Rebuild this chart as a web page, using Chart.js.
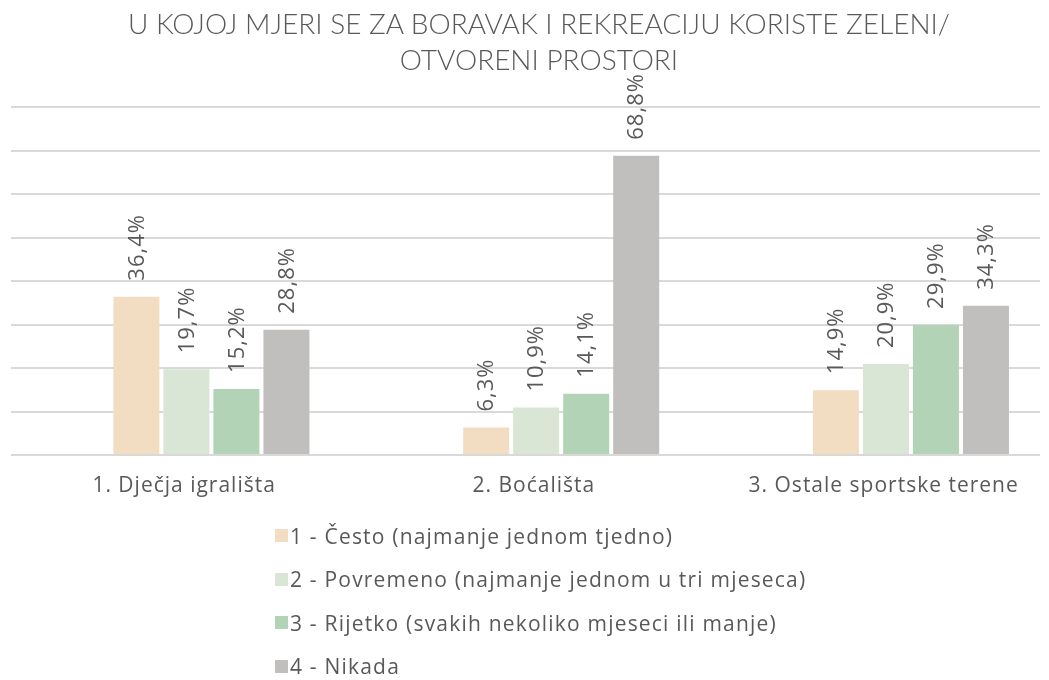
<!DOCTYPE html>
<html>
<head>
<meta charset="utf-8">
<script src="https://cdn.jsdelivr.net/npm/chart.js@4.4.0/dist/chart.umd.min.js"></script>
<style>
  body { margin: 0; background: #fff; }
  #wrap { position: relative; width: 1049px; height: 680px; overflow: hidden; }
  #title {
    position: absolute; top: 5px; left: 539px;
    transform: translateX(-50%);
    white-space: nowrap; text-align: center;
    font-family: Lato, sans-serif; font-weight: 300; font-size: 28px; line-height: 36px;
    color: #595959;
  }
  #legend {
    position: absolute; left: 275px; top: 514px;
    font-family: "Open Sans", sans-serif; font-size: 21px; letter-spacing: 1.2px; color: #595959;
  }
  #legend div { height: 43.5px; display: flex; align-items: center; }
  #legend span.box { width: 13px; height: 13px; margin-right: 2px; display: inline-block; }
  canvas { position: absolute; left: 0; top: 0; }
</style>
</head>
<body>
<div id="wrap">
  <canvas id="chart1" width="1049" height="680"></canvas>
  <div id="title">U KOJOJ MJERI SE ZA BORAVAK I REKREACIJU KORISTE ZELENI/<br>OTVORENI PROSTORI</div>
  <div id="legend"></div>
</div>
<script>
// categories and series (percent)
const categories = ['1. Dječja igrališta', '2. Boćališta', '3. Ostale sportske terene'];
const seriesNames = [
  '1 - Često (najmanje jednom tjedno)',
  '2 - Povremeno (najmanje jednom u tri mjeseca)',
  '3 - Rijetko (svakih nekoliko mjeseci ili manje)',
  '4 - Nikada'
];
const cesto = [36.4, 6.3, 14.9];
const povremeno = [19.7, 10.9, 20.9];
const rijetko = [15.2, 14.1, 29.9];
const nikada = [28.8, 68.8, 34.3];
const yTicks = [0, 10, 20, 30, 40, 50, 60, 70, 80];

const colors = ['#f2ddc2', '#d9e5d5', '#b3d3b7', '#c0bfbd'];
const allSeries = [cesto, povremeno, rijetko, nikada];

// wider text spacing, the original font is quite wide
const spacing = {
  id: 'spacing',
  beforeDraw(chart) { chart.ctx.letterSpacing = '1px'; }
};

// rotated value labels above the bars
const valueLabels = {
  id: 'valueLabels',
  afterDatasetsDraw(chart) {
    const ctx = chart.ctx;
    ctx.save();
    ctx.font = '22px "Open Sans", sans-serif';
    ctx.fillStyle = '#595959';
    ctx.textAlign = 'left';
    ctx.textBaseline = 'middle';
    chart.data.datasets.forEach((ds, i) => {
      chart.getDatasetMeta(i).data.forEach((bar, j) => {
        const txt = ds.data[j].y.toFixed(1).replace('.', ',') + '%';
        ctx.save();
        ctx.translate(bar.x + 1, bar.y - 16);
        ctx.rotate(-Math.PI / 2);
        ctx.fillText(txt, 0, 0);
        ctx.restore();
      });
    });
    ctx.restore();
  }
};

const ctx1 = document.getElementById('chart1').getContext('2d');
const chart1 = new Chart(ctx1, {
  type: 'bar',
  data: {
    datasets: allSeries.map((vals, i) => ({
      label: seriesNames[i],
      data: vals.map((v, k) => ({ x: k, y: v })),
      backgroundColor: colors[i],
      categoryPercentage: 0.572,
      barPercentage: 0.92
    }))
  },
  options: {
    responsive: false,
    animation: false,
    layout: { padding: { top: 107, left: 11, right: 9, bottom: 0 } },
    plugins: { legend: { display: false }, tooltip: { enabled: false } },
    scales: {
      x: {
        type: 'linear',
        offset: false,
        min: -0.573,
        max: 2.369,
        grid: { display: false },
        border: { display: false },
        // category names sit a little left of the bar groups, like the original
        afterBuildTicks: s => { s.ticks = categories.map((c, k) => ({ value: k - 0.078 })); },
        afterFit: s => { s.height = 225; },
        ticks: {
          padding: 10,
          color: '#595959',
          font: { family: '"Open Sans", sans-serif', size: 21 },
          callback: (v, idx) => categories[idx]
        }
      },
      y: {
        min: 0,
        max: 80,
        afterBuildTicks: s => { s.ticks = yTicks.map(v => ({ value: v })); },
        ticks: { display: false },
        border: { display: false },
        grid: { color: '#d9d9d9', lineWidth: 2, drawTicks: false }
      }
    }
  },
  plugins: [spacing, valueLabels]
});

// legend as a plain list under the chart
const legend = document.getElementById('legend');
seriesNames.forEach((name, i) => {
  const row = document.createElement('div');
  row.innerHTML = '<span class="box" style="background:' + colors[i] + '"></span>' + name;
  legend.appendChild(row);
});
</script>
</body>
</html>
